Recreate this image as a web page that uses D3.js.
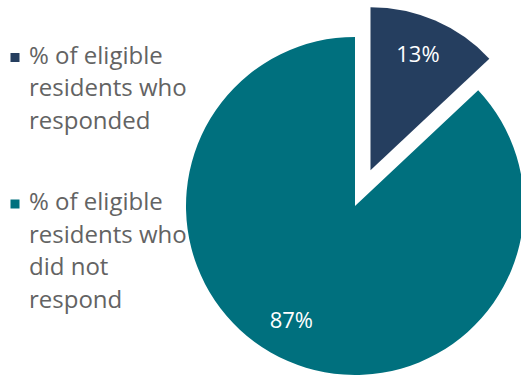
<!DOCTYPE html>
<html>
<head>
<meta charset="utf-8">
<script src="https://cdn.jsdelivr.net/npm/d3@7"></script>
<style>
  html, body { margin: 0; padding: 0; background: #fff; }
  svg { display: block; font-family: "Open Sans", "Noto Sans", sans-serif; }
</style>
</head>
<body>
<svg id="chart" width="521" height="375"></svg>
<script>
// Survey response share
const categories = [
  "% of eligible residents who responded",
  "% of eligible residents who did not respond"
];
const legendLines = [
  ["% of eligible", "residents who", "responded"],
  ["% of eligible", "residents who", "did not", "respond"]
];
const values = [13, 87];
const valueLabels = ["13%", "87%"];
const colors = ["#253E5F", "#00707E"];

const svg = d3.select("#chart");

// pie geometry
const cx = 355, cy = 206;
const radius = 169;
const explode = 39;           // offset of the pulled-out slice
const explodedRadius = 163;   // radius of the pulled-out slice

const pie = d3.pie().sort(null).value(d => d)(values);

const color = d3.scaleOrdinal().domain(categories).range(colors);

const arc = d3.arc()
  .innerRadius(0)
  .outerRadius(d => d.index === 0 ? explodedRadius : radius);

const g = svg.append("g").attr("transform", `translate(${cx},${cy})`);

function sliceOffset(d) {
  if (d.index !== 0) return [0, 0];
  const a = (d.startAngle + d.endAngle) / 2;
  return [Math.sin(a) * explode, -Math.cos(a) * explode];
}

const slices = g.selectAll("g.slice")
  .data(pie)
  .join("g")
  .attr("class", "slice")
  .attr("transform", d => {
    const [dx, dy] = sliceOffset(d);
    return `translate(${dx},${dy})`;
  });

slices.append("path")
  .attr("d", arc)
  .attr("fill", (d, i) => color(categories[i]));

// value labels
const labelRadius = [127, 130];
const labelNudge = [[-3, 0], [-12, -5]];
slices.append("text")
  .attr("x", (d, i) => {
    const a = (d.startAngle + d.endAngle) / 2;
    return Math.sin(a) * labelRadius[i] + labelNudge[i][0];
  })
  .attr("y", (d, i) => {
    const a = (d.startAngle + d.endAngle) / 2;
    return -Math.cos(a) * labelRadius[i] + labelNudge[i][1];
  })
  .attr("dy", "0.36em")
  .attr("text-anchor", "middle")
  .attr("fill", "#ffffff")
  .attr("font-size", 22)
  .text((d, i) => valueLabels[i]);

// legend
const legendX = 10.5, textX = 29;
const lineH = 32.5;
const legendTops = [63.5, 210];

const legend = svg.selectAll("g.legend")
  .data(categories)
  .join("g")
  .attr("class", "legend");

legend.append("rect")
  .attr("x", legendX)
  .attr("y", (d, i) => legendTops[i] - 10.5)
  .attr("width", 9)
  .attr("height", 9)
  .attr("fill", d => color(d));

legend.append("text")
  .attr("font-size", 24)
  .attr("fill", "#636363")
  .selectAll("tspan")
  .data((d, i) => legendLines[i].map((t, j) => ({ t, y: legendTops[i] + j * lineH })))
  .join("tspan")
  .attr("x", textX)
  .attr("y", d => d.y)
  .text(d => d.t);
</script>
</body>
</html>
